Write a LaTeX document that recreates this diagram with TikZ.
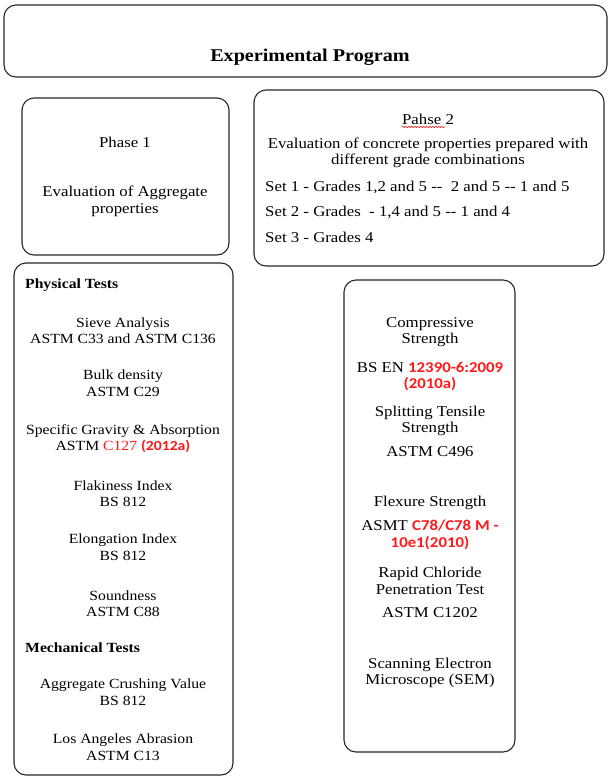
\documentclass[tikz,border=0pt]{standalone}
\usepackage{fontspec}
\setmainfont[FakeStretch=1.12]{Liberation Serif}
\newfontfamily\redfont[FakeStretch=1.12]{Carlito}
\usetikzlibrary{decorations.pathmorphing}
\definecolor{redstd}{rgb}{1,0.1,0.1}
\newcommand{\std}[1]{{\redfont\bfseries\color{redstd}#1}}

\tikzset{
	panel/.style={draw=black!85, line width=1.1pt, rounded corners=12pt},
	txt/.style={align=center, inner sep=0pt, font=\fontsize{15}{16.5}\selectfont},
	small/.style={txt, font=\fontsize{14}{16.5}\selectfont},
	head/.style={anchor=west, inner sep=0pt, font=\fontsize{14}{16.5}\selectfont\bfseries},
	line/.style={anchor=west, inner sep=0pt, font=\fontsize{15}{16.5}\selectfont}
}

\begin{document}
\begin{tikzpicture}[x=1pt,y=1pt]
	\useasboundingbox (0,0) rectangle (611,-777);
	
	%BOXES
	\draw[panel] (4,-5) rectangle (607,-77);
	\draw[panel] (22,-98) rectangle (229,-255);
	\draw[panel] (254,-90) rectangle (604,-266);
	\draw[panel] (14,-263) rectangle (233,-775);
	\draw[panel] (344,-280) rectangle (515,-752);
	
	%TITLE
	\node[txt, font=\fontsize{18}{20}\selectfont\bfseries] (title) at (310,-57) {Experimental Program};
	
	%PHASE 1
	\node[txt] (phaseone) at (125,-142) {Phase 1};
	\node[txt] (aggeval) at (125,-201.5) {Evaluation of Aggregate\\properties};
	
	%PHASE 2
	\node[txt] (phasetwo) at (428,-119) {Pahse 2};
	\draw[red, line width=0.5pt, decorate, decoration={snake, amplitude=0.8pt, segment length=3pt}]
		([yshift=-2.5pt]phasetwo.south west) -- ([xshift=-9pt,yshift=-2.5pt]phasetwo.south east); %spelling mark
	\node[txt] (concreval) at (428,-153) {Evaluation of concrete properties prepared with\\different grade combinations};
	\node[line] (setone) at (265,-187) {Set 1 - Grades 1,2 and 5 -{}-\ \ 2 and 5 -{}- 1 and 5};
	\node[line] (settwo) at (265,-212) {Set 2 - Grades\ \ - 1,4 and 5 -{}- 1 and 4};
	\node[line] (setthree) at (265,-237) {Set 3 - Grades 4};
	
	%AGGREGATE TESTS
	\node[head] (physical) at (25,-285) {Physical Tests};
	\node[small] (sieve) at (123,-330.5) {Sieve Analysis\\ASTM C33 and ASTM C136};
	\node[small] (bulk) at (123,-383) {Bulk density\\ASTM C29};
	\node[small] (gravity) at (123,-438.5) {Specific Gravity \& Absorption\\ASTM {\color{redstd}C127} \std{(2012a)}};
	\node[small] (flaky) at (123,-493.5) {Flakiness Index\\BS 812};
	\node[small] (elong) at (123,-547) {Elongation Index\\BS 812};
	\node[small] (sound) at (123,-603.5) {Soundness\\ASTM C88};
	\node[head] (mechanical) at (25,-648) {Mechanical Tests};
	\node[small] (crush) at (123,-692) {Aggregate Crushing Value\\BS 812};
	\node[small] (abrasion) at (123,-747) {Los Angeles Abrasion\\ASTM C13};
	
	%CONCRETE TESTS
	\node[txt] (compr) at (430,-332) {Compressive\\Strength};
	\node[txt] (comprstd) at (430,-376.5) {BS EN \std{12390-6:2009}\\\std{(2010a)}};
	\node[txt] (split) at (430,-421) {Splitting Tensile\\Strength};
	\node[txt] (splitstd) at (430,-452) {ASTM C496};
	\node[txt] (flex) at (430,-503) {Flexure Strength};
	\node[txt] (flexstd) at (430,-535) {ASMT \std{C78/C78 M -}\\\std{10e1(2010)}};
	\node[txt] (rcpt) at (430,-581) {Rapid Chloride\\Penetration Test};
	\node[txt] (rcptstd) at (430,-613) {ASTM C1202};
	\node[txt] (sem) at (430,-673) {Scanning Electron\\Microscope (SEM)};
\end{tikzpicture}
\end{document}
